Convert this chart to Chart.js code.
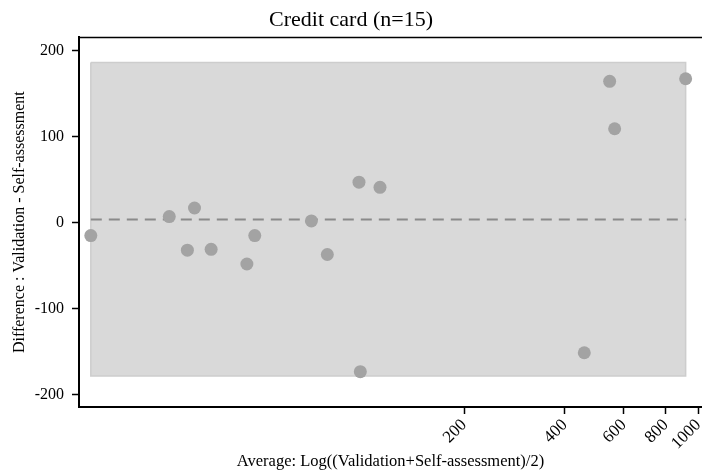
<!DOCTYPE html>
<html>
<head>
<meta charset="utf-8">
<script src="https://cdn.jsdelivr.net/npm/chart.js@4"></script>
<style>
  body { margin: 0; background: #fff; }
</style>
</head>
<body>
<canvas id="myChart" width="702" height="475"></canvas>
<script>
// average of the two measures (log axis) and their difference
const avgValues = [15.4, 26.4, 29.9, 31.4, 35.2, 45.0, 47.5, 70.1, 78.2, 97.2, 98.1, 112.3, 457, 544, 563, 917];
const diffValues = [-15, 7, -32, 17, -31, -48, -15, 2, -37, 47, -173, 41, -151, 164, 109, 167];
const meanDiff = 3.5;
const upperLoA = 186;
const lowerLoA = -178;
const xTicks = [200, 400, 600, 800, 1000];
const yTicks = [-200, -100, 0, 100, 200];

const xLo = Math.min(...avgValues);
const xHi = Math.max(...avgValues);

const serif = "'Liberation Serif', 'DejaVu Serif', serif";

const topBorder = {
    id: 'topBorder',
    afterDraw(chart) {
        const a = chart.chartArea;
        const c = chart.ctx;
        c.save();
        c.strokeStyle = '#000';
        c.lineWidth = 1.5;
        c.beginPath();
        c.moveTo(a.left, a.top);
        c.lineTo(chart.width, a.top);
        c.stroke();
        c.restore();
    }
};

const ctx = document.getElementById('myChart');
const myChart = new Chart(ctx, {
    type: 'scatter',
    data: {
        datasets: [{
            label: 'points',
            data: avgValues.map((x, i) => ({x: x, y: diffValues[i]})),
            backgroundColor: '#a3a3a3',
            borderWidth: 0,
            pointRadius: 6.5,
            order: 0
        }, {
            label: 'mean',
            data: [{x: xLo, y: meanDiff}, {x: xHi, y: meanDiff}],
            showLine: true,
            borderColor: '#8a8a8a',
            borderWidth: 2,
            borderDash: [11, 7],
            pointRadius: 0,
            order: 1
        }, {
            label: 'limits',
            data: [{x: xLo, y: upperLoA}, {x: xHi, y: upperLoA}, {x: xHi, y: lowerLoA}, {x: xLo, y: lowerLoA}, {x: xLo, y: upperLoA}],
            showLine: true,
            fill: 'shape',
            backgroundColor: '#d9d9d9',
            borderColor: '#cdcdcd',
            borderWidth: 1.5,
            pointRadius: 0,
            tension: 0,
            order: 2
        }]
    },
    options: {
        responsive: false,
        animation: false,
        layout: { padding: 0, autoPadding: false },
        plugins: {
            legend: { display: false },
            tooltip: { enabled: false },
            title: {
                display: true,
                text: 'Credit card (n=15)',
                color: '#000',
                font: { family: serif, size: 22, weight: 'normal' },
                padding: { top: 7, bottom: 4 }
            }
        },
        scales: {
            x: {
                type: 'logarithmic',
                min: 14.2,
                max: 1026,
                afterBuildTicks: (s) => { s.ticks = xTicks.map(v => ({value: v})); },
                // axis runs to the right edge, no room kept for the last label
                afterFit: (s) => { s.height = 68; s.paddingLeft = 0; s.paddingRight = 0; },
                grid: {
                    display: true,
                    drawOnChartArea: false,
                    color: '#000',
                    tickLength: 7,
                    tickWidth: 1.5
                },
                border: { color: '#000', width: 2 },
                ticks: {
                    color: '#000',
                    font: { family: serif, size: 17 },
                    minRotation: 45,
                    maxRotation: 45,
                    padding: 1,
                    callback: (v) => String(v)
                },
                title: {
                    display: true,
                    text: 'Average: Log((Validation+Self-assessment)/2)',
                    color: '#000',
                    font: { family: serif, size: 16.5 },
                    padding: { top: 0, bottom: 3 }
                }
            },
            y: {
                min: -214,
                max: 215,
                afterBuildTicks: (s) => { s.ticks = yTicks.map(v => ({value: v})); },
                afterFit: (s) => { s.width = 79; },
                grid: {
                    display: true,
                    drawOnChartArea: false,
                    color: '#000',
                    tickLength: 7,
                    tickWidth: 1.5
                },
                border: { color: '#000', width: 2 },
                ticks: {
                    color: '#000',
                    font: { family: serif, size: 16 },
                    padding: 8
                },
                title: {
                    display: true,
                    text: 'Difference : Validation - Self-assessment',
                    color: '#000',
                    font: { family: serif, size: 16 },
                    padding: { top: 10, bottom: 0 }
                }
            }
        }
    },
    plugins: [topBorder]
});
</script>
</body>
</html>
